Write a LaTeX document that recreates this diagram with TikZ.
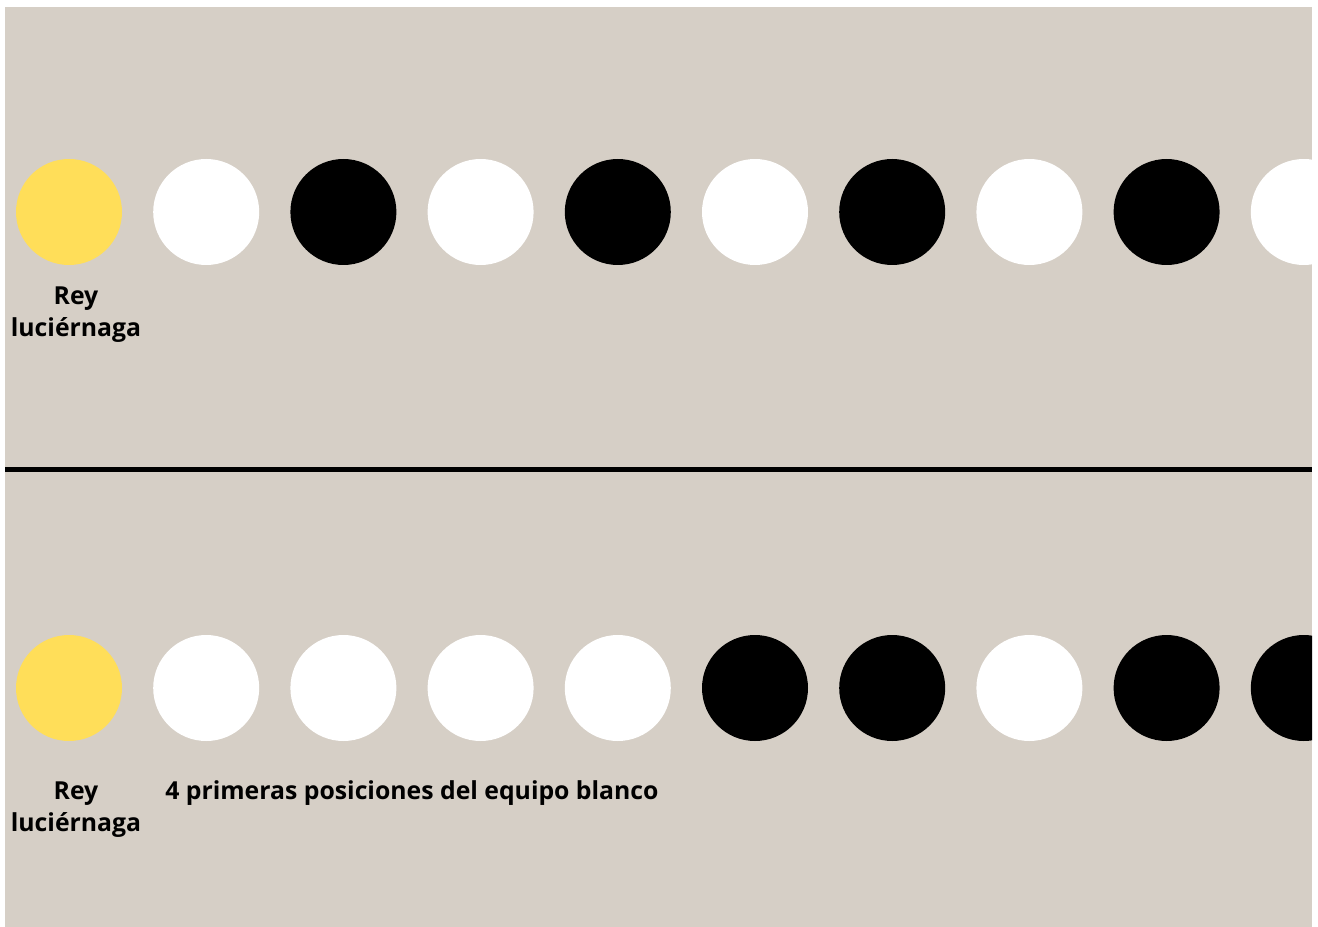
\documentclass[tikz,border=0pt]{standalone}
\usepackage{fontspec}
\setmainfont{Open Sans}
\usetikzlibrary{positioning}
\definecolor{boardBg}{HTML}{D6CFC6}
\definecolor{kingYellow}{HTML}{FFDE59}
\tikzset{
  piece/.style={circle, minimum size=2.12cm, inner sep=0pt, outer sep=0pt, draw=none},
  lbl/.style={font=\bfseries\fontsize{14.1}{18.6}\selectfont, align=center, inner sep=0pt},
  divider/.style={line width=0.1cm, black},
}

\begin{document}
\begin{tikzpicture}[node distance=0.624cm]
  \useasboundingbox (0,0) rectangle (26.36,-18.54);
  \fill[boardBg] (0.1,-0.14) rectangle (26.24,-18.54);
  \begin{scope}
    \clip (0.1,-0.14) rectangle (26.24,-18.54);
    % fila de arriba: blancas y negras alternadas
    \node[piece, fill=kingYellow] (a0) at (1.38,-4.24) {};
    \foreach \c [count=\i from 1, evaluate=\i as \j using int(\i-1)] in
        {white,black,white,black,white,black,white,black,white}
      \node[piece, fill=\c, right=of a\j] (a\i) {};
    % fila de abajo: las 4 primeras blancas
    \node[piece, fill=kingYellow] (b0) at (1.38,-13.76) {};
    \foreach \c [count=\i from 1, evaluate=\i as \j using int(\i-1)] in
        {white,white,white,white,black,black,white,black,black}
      \node[piece, fill=\c, right=of b\j] (b\i) {};
  \end{scope}
  \coordinate (divL) at (0.1,-9.38);
  \coordinate (divR) at (26.24,-9.38);
  \draw[divider] (divL) -- (divR);
  \node[lbl, below=0.42cm of a0, xshift=0.14cm] (reyA) {Rey\\luciérnaga};
  \node[lbl, below=0.8cm of b0, xshift=0.14cm] (reyB) {Rey\\luciérnaga};
  \node[lbl, anchor=base west] (equipo) at (3.3,-15.98)
    {4 primeras posiciones del equipo blanco};
\end{tikzpicture}
\end{document}
